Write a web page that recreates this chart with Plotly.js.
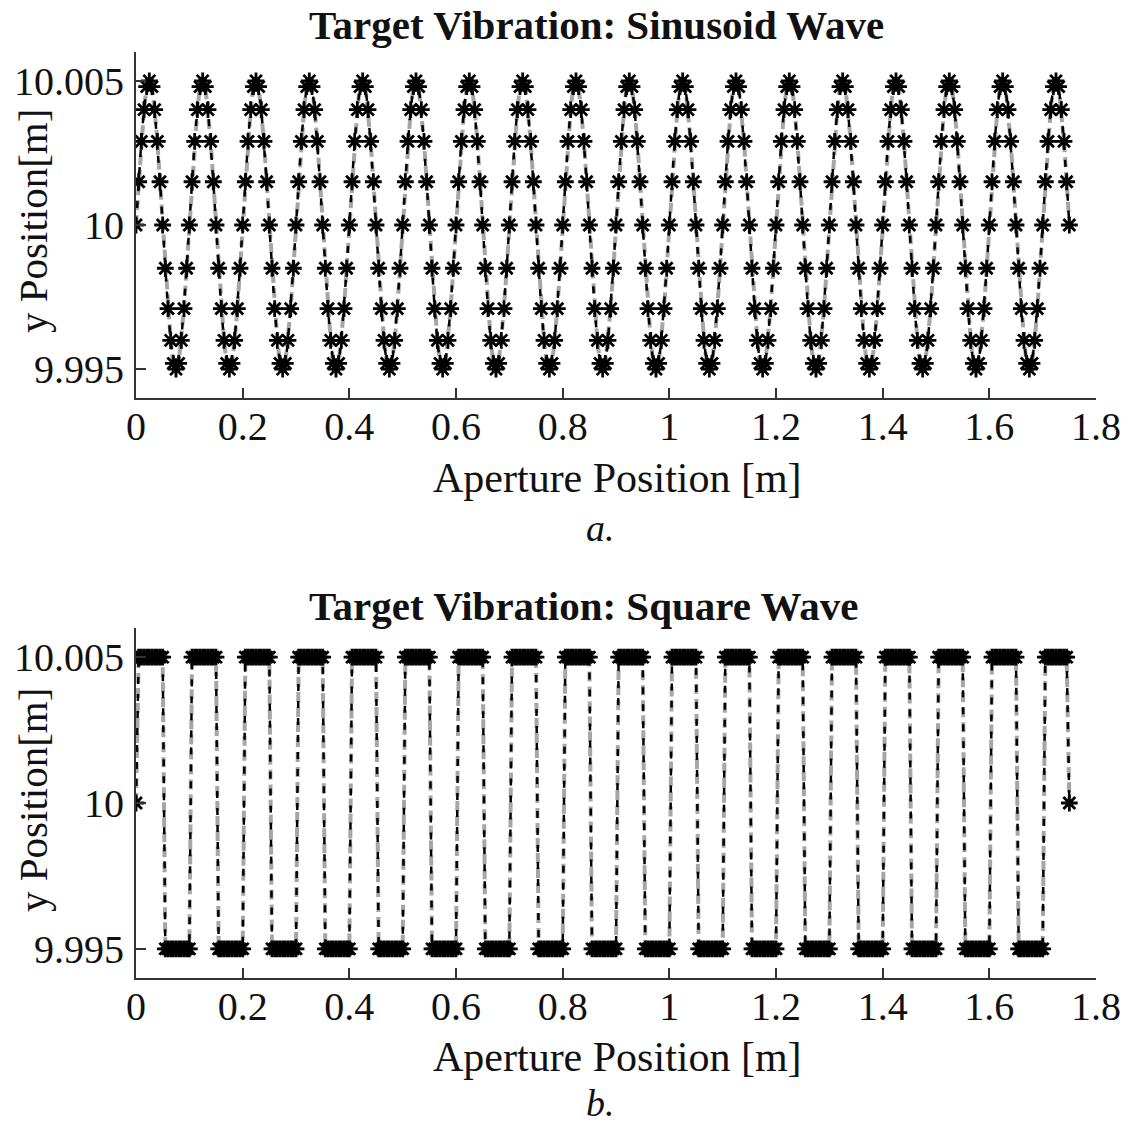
<!DOCTYPE html>
<html>
<head>
<meta charset="utf-8">
<script src="https://cdn.plot.ly/plotly-3.0.1.min.js"></script>
<style>html,body{margin:0;padding:0;background:#fff;}#chart{width:1135px;height:1124px;}</style>
</head>
<body>
<div id="chart"></div>
<script>
// Aperture position sampling (m): first sample and step
const xStart = 0;
const xStep = 0.005;

// Sinusoid target vibration, y position [m], read sample by sample
const sineY = [
10,10.0015,10.0029,10.004,10.0048,10.005,10.0048,10.004,10.0029,10.0015,10,9.9985,9.9971,9.996,9.9952,9.995,9.9952,9.996,9.9971,9.9985,
10,10.0015,10.0029,10.004,10.0048,10.005,10.0048,10.004,10.0029,10.0015,10,9.9985,9.9971,9.996,9.9952,9.995,9.9952,9.996,9.9971,9.9985,
10,10.0015,10.0029,10.004,10.0048,10.005,10.0048,10.004,10.0029,10.0015,10,9.9985,9.9971,9.996,9.9952,9.995,9.9952,9.996,9.9971,9.9985,
10,10.0015,10.0029,10.004,10.0048,10.005,10.0048,10.004,10.0029,10.0015,10,9.9985,9.9971,9.996,9.9952,9.995,9.9952,9.996,9.9971,9.9985,
10,10.0015,10.0029,10.004,10.0048,10.005,10.0048,10.004,10.0029,10.0015,10,9.9985,9.9971,9.996,9.9952,9.995,9.9952,9.996,9.9971,9.9985,
10,10.0015,10.0029,10.004,10.0048,10.005,10.0048,10.004,10.0029,10.0015,10,9.9985,9.9971,9.996,9.9952,9.995,9.9952,9.996,9.9971,9.9985,
10,10.0015,10.0029,10.004,10.0048,10.005,10.0048,10.004,10.0029,10.0015,10,9.9985,9.9971,9.996,9.9952,9.995,9.9952,9.996,9.9971,9.9985,
10,10.0015,10.0029,10.004,10.0048,10.005,10.0048,10.004,10.0029,10.0015,10,9.9985,9.9971,9.996,9.9952,9.995,9.9952,9.996,9.9971,9.9985,
10,10.0015,10.0029,10.004,10.0048,10.005,10.0048,10.004,10.0029,10.0015,10,9.9985,9.9971,9.996,9.9952,9.995,9.9952,9.996,9.9971,9.9985,
10,10.0015,10.0029,10.004,10.0048,10.005,10.0048,10.004,10.0029,10.0015,10,9.9985,9.9971,9.996,9.9952,9.995,9.9952,9.996,9.9971,9.9985,
10,10.0015,10.0029,10.004,10.0048,10.005,10.0048,10.004,10.0029,10.0015,10,9.9985,9.9971,9.996,9.9952,9.995,9.9952,9.996,9.9971,9.9985,
10,10.0015,10.0029,10.004,10.0048,10.005,10.0048,10.004,10.0029,10.0015,10,9.9985,9.9971,9.996,9.9952,9.995,9.9952,9.996,9.9971,9.9985,
10,10.0015,10.0029,10.004,10.0048,10.005,10.0048,10.004,10.0029,10.0015,10,9.9985,9.9971,9.996,9.9952,9.995,9.9952,9.996,9.9971,9.9985,
10,10.0015,10.0029,10.004,10.0048,10.005,10.0048,10.004,10.0029,10.0015,10,9.9985,9.9971,9.996,9.9952,9.995,9.9952,9.996,9.9971,9.9985,
10,10.0015,10.0029,10.004,10.0048,10.005,10.0048,10.004,10.0029,10.0015,10,9.9985,9.9971,9.996,9.9952,9.995,9.9952,9.996,9.9971,9.9985,
10,10.0015,10.0029,10.004,10.0048,10.005,10.0048,10.004,10.0029,10.0015,10,9.9985,9.9971,9.996,9.9952,9.995,9.9952,9.996,9.9971,9.9985,
10,10.0015,10.0029,10.004,10.0048,10.005,10.0048,10.004,10.0029,10.0015,10,9.9985,9.9971,9.996,9.9952,9.995,9.9952,9.996,9.9971,9.9985,
10,10.0015,10.0029,10.004,10.0048,10.005,10.0048,10.004,10.0029,10.0015,10
];

// Square target vibration, y position [m], read sample by sample
const squareY = [
10,
10.005,10.005,10.005,10.005,10.005,10.005,10.005,10.005,10.005,10.005,9.995,9.995,9.995,9.995,9.995,9.995,9.995,9.995,9.995,9.995,
10.005,10.005,10.005,10.005,10.005,10.005,10.005,10.005,10.005,10.005,9.995,9.995,9.995,9.995,9.995,9.995,9.995,9.995,9.995,9.995,
10.005,10.005,10.005,10.005,10.005,10.005,10.005,10.005,10.005,10.005,9.995,9.995,9.995,9.995,9.995,9.995,9.995,9.995,9.995,9.995,
10.005,10.005,10.005,10.005,10.005,10.005,10.005,10.005,10.005,10.005,9.995,9.995,9.995,9.995,9.995,9.995,9.995,9.995,9.995,9.995,
10.005,10.005,10.005,10.005,10.005,10.005,10.005,10.005,10.005,10.005,9.995,9.995,9.995,9.995,9.995,9.995,9.995,9.995,9.995,9.995,
10.005,10.005,10.005,10.005,10.005,10.005,10.005,10.005,10.005,10.005,9.995,9.995,9.995,9.995,9.995,9.995,9.995,9.995,9.995,9.995,
10.005,10.005,10.005,10.005,10.005,10.005,10.005,10.005,10.005,10.005,9.995,9.995,9.995,9.995,9.995,9.995,9.995,9.995,9.995,9.995,
10.005,10.005,10.005,10.005,10.005,10.005,10.005,10.005,10.005,10.005,9.995,9.995,9.995,9.995,9.995,9.995,9.995,9.995,9.995,9.995,
10.005,10.005,10.005,10.005,10.005,10.005,10.005,10.005,10.005,10.005,9.995,9.995,9.995,9.995,9.995,9.995,9.995,9.995,9.995,9.995,
10.005,10.005,10.005,10.005,10.005,10.005,10.005,10.005,10.005,10.005,9.995,9.995,9.995,9.995,9.995,9.995,9.995,9.995,9.995,9.995,
10.005,10.005,10.005,10.005,10.005,10.005,10.005,10.005,10.005,10.005,9.995,9.995,9.995,9.995,9.995,9.995,9.995,9.995,9.995,9.995,
10.005,10.005,10.005,10.005,10.005,10.005,10.005,10.005,10.005,10.005,9.995,9.995,9.995,9.995,9.995,9.995,9.995,9.995,9.995,9.995,
10.005,10.005,10.005,10.005,10.005,10.005,10.005,10.005,10.005,10.005,9.995,9.995,9.995,9.995,9.995,9.995,9.995,9.995,9.995,9.995,
10.005,10.005,10.005,10.005,10.005,10.005,10.005,10.005,10.005,10.005,9.995,9.995,9.995,9.995,9.995,9.995,9.995,9.995,9.995,9.995,
10.005,10.005,10.005,10.005,10.005,10.005,10.005,10.005,10.005,10.005,9.995,9.995,9.995,9.995,9.995,9.995,9.995,9.995,9.995,9.995,
10.005,10.005,10.005,10.005,10.005,10.005,10.005,10.005,10.005,10.005,9.995,9.995,9.995,9.995,9.995,9.995,9.995,9.995,9.995,9.995,
10.005,10.005,10.005,10.005,10.005,10.005,10.005,10.005,10.005,10.005,9.995,9.995,9.995,9.995,9.995,9.995,9.995,9.995,9.995,9.995,
10.005,10.005,10.005,10.005,10.005,10.005,10.005,10.005,10.005,
10
];

const xTickVals = [0,0.2,0.4,0.6,0.8,1,1.2,1.4,1.6,1.8];
const xTickText = ["0","0.2","0.4","0.6","0.8","1","1.2","1.4","1.6","1.8"];
const yTickVals = [9.995,10,10.005];
const yTickText = ["9.995","10","10.005"];

const titleTop = "Target Vibration: Sinusoid Wave";
const titleBottom = "Target Vibration: Square Wave";
const xTitle = "Aperture Position [m]";
const yTitle = "y Position[m]";
const captions = ["a.","b."];

const W = 1135, H = 1124;
const serif = "Liberation Serif, Times New Roman, serif";

function traces(y, xa, ya) {
  return [
    {type:'scatter', mode:'lines', x0:xStart, dx:xStep, y:y, xaxis:xa, yaxis:ya,
     line:{color:'#a6a6a6', width:4, dash:'10px,5px'}, hoverinfo:'skip', showlegend:false},
    {type:'scatter', mode:'lines+markers', x0:xStart, dx:xStep, y:y, xaxis:xa, yaxis:ya,
     line:{color:'#000', width:2.5, dash:'7px,10px'},
     marker:{symbol:'asterisk-open', size:14, color:'#000', line:{color:'#000', width:2.8}},
     showlegend:false}
  ];
}

const data = [...traces(sineY,'x','y'), ...traces(squareY,'x2','y2')];

function xax(anchor){
  return {domain:[136/W, 1096/W], range:[0,1.8], anchor:anchor,
    tickvals:xTickVals, ticktext:xTickText, ticks:'inside', ticklen:10, tickwidth:2, tickcolor:'#333',
    showline:true, linewidth:2, linecolor:'#333', showgrid:false, zeroline:false, mirror:false,
    tickfont:{family:serif, size:40, color:'#111'}, ticklabelstandoff:-8};
}
function yax(anchor, top, bot){
  return {domain:[1-bot/H, 1-top/H], range:[9.994,10.006], anchor:anchor,
    tickvals:yTickVals, ticktext:yTickText, ticks:'inside', ticklen:10, tickwidth:2, tickcolor:'#333',
    showline:true, linewidth:2, linecolor:'#333', showgrid:false, zeroline:false, mirror:false,
    tickfont:{family:serif, size:40, color:'#111'}, ticklabelstandoff:2};
}

function ann(text, px, py, size, extra){
  return Object.assign({text:text, xref:'paper', yref:'paper', x:px/W, y:1-py/H,
    xanchor:'center', yanchor:'middle', showarrow:false,
    font:{family:serif, size:size, color:'#111'}}, extra||{});
}

const layout = {
  width:W, height:H, autosize:false,
  margin:{l:0,r:0,t:0,b:0},
  paper_bgcolor:'#fff', plot_bgcolor:'#fff',
  xaxis:xax('y'), yaxis:yax('x',52,398),
  xaxis2:xax('y2'), yaxis2:yax('x2',628,978),
  annotations:[
    ann('<b>'+titleTop+'</b>', 596, 25, 41),
    ann('<b>'+titleBottom+'</b>', 583, 606, 41),
    ann(xTitle, 618, 478, 42),
    ann(xTitle, 618, 1057, 42),
    ann(yTitle, 33, 221, 41, {textangle:-90}),
    ann(yTitle, 33, 800, 41, {textangle:-90}),
    ann('<i>'+captions[0]+'</i>', 600, 528, 38),
    ann('<i>'+captions[1]+'</i>', 600, 1103, 38)
  ]
};

Plotly.newPlot('chart', data, layout, {staticPlot:true, displayModeBar:false});
</script>
</body>
</html>
